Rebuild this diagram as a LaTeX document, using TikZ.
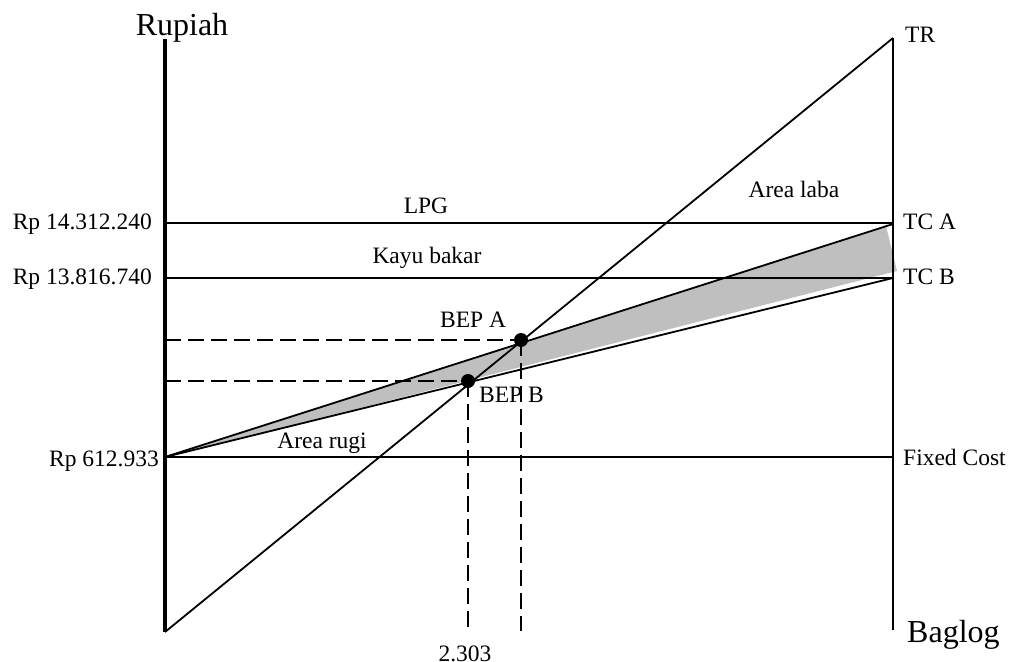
\documentclass[tikz,border=0pt]{standalone}
\usepackage{fontspec}
\setmainfont{Liberation Serif}
\begin{document}
\begin{tikzpicture}[x=1pt,y=-1pt,
  lbl/.style={font=\fontsize{23.5}{27}\selectfont, inner sep=0pt},
  big/.style={font=\fontsize{32}{36}\selectfont, inner sep=0pt},
  ln/.style={line width=1.8pt},
  dsh/.style={line width=1.8pt, dash pattern=on 16pt off 7pt},
  dot/.style={circle, fill=black, inner sep=0pt, minimum size=14pt}]
\useasboundingbox (0,0) rectangle (1011,661);
% coordinates
\coordinate (O) at (165,632);
\coordinate (Ytop) at (165,39);
\coordinate (Rtop) at (893,38);
\coordinate (Rbot) at (893,630);
\coordinate (LPGl) at (165,223);
\coordinate (LPGr) at (893,223);
\coordinate (KBl) at (165,278);
\coordinate (KBr) at (893,278);
\coordinate (FCl) at (165,457);
\coordinate (FCr) at (893,457);
\coordinate (TCA) at (893,224);
\coordinate (TCB) at (893,278);
\coordinate (Bx) at (468,631);
\coordinate (Ax) at (521,631);
\coordinate (By) at (165,381);
\coordinate (Ay) at (165,340);
% shaded area
\fill[gray!50] (166,457) -- (886,226) -- (897,271) -- (168,457) -- cycle;
% axes and lines
\draw[line width=3.5pt] (Ytop) -- (O);
\draw[ln] (Rtop) -- (Rbot);
\draw[ln] (LPGl) -- (LPGr);
\draw[ln] (KBl) -- (KBr);
\draw[ln] (FCl) -- (FCr);
\draw[ln] (FCl) -- (TCA);
\draw[ln] (FCl) -- (TCB);
\draw[ln] (O) -- (Rtop);
% BEP points
\node[dot] (bepA) at (521,340) {};
\node[dot] (bepB) at (468,381) {};
\draw[dsh] (Ay) -- (bepA.center);
\draw[dsh] (By) -- (bepB.center);
\draw[dsh] (bepA.center) -- (Ax);
\draw[dsh] (bepB.center) -- (Bx);
% labels
\node[big, anchor=base] (rup) at (182,36) {Rupiah};
\node[big, anchor=base west] (bag) at (907,642) {Baglog};
\node[lbl, anchor=base east] (l1) at (152,229) {Rp 14.312.240};
\node[lbl, anchor=base east] (l2) at (152,284) {Rp 13.816.740};
\node[lbl, anchor=base east] (l3) at (159,466) {Rp 612.933};
\node[lbl, anchor=base] (lpg) at (426,213) {LPG};
\node[lbl, anchor=base] (kb) at (427,263) {Kayu bakar};
\node[lbl, anchor=base] (al) at (794,197) {Area laba};
\node[lbl, anchor=base] (ar) at (322,448) {Area rugi};
\node[lbl, anchor=base west] (tr) at (905,43) {TR};
\node[lbl, anchor=base west] (tca) at (903,229) {TC A};
\node[lbl, anchor=base west] (tcb) at (903,284) {TC B};
\node[lbl, anchor=base west] (fc) at (903,465) {Fixed Cost};
\node[lbl, anchor=base west] (ba) at (440,327) {BEP A};
\node[lbl, anchor=base west] (bb) at (479,402) {BEP B};
\node[lbl, anchor=base] (x1) at (465,661) {2.303};
\end{tikzpicture}
\end{document}
